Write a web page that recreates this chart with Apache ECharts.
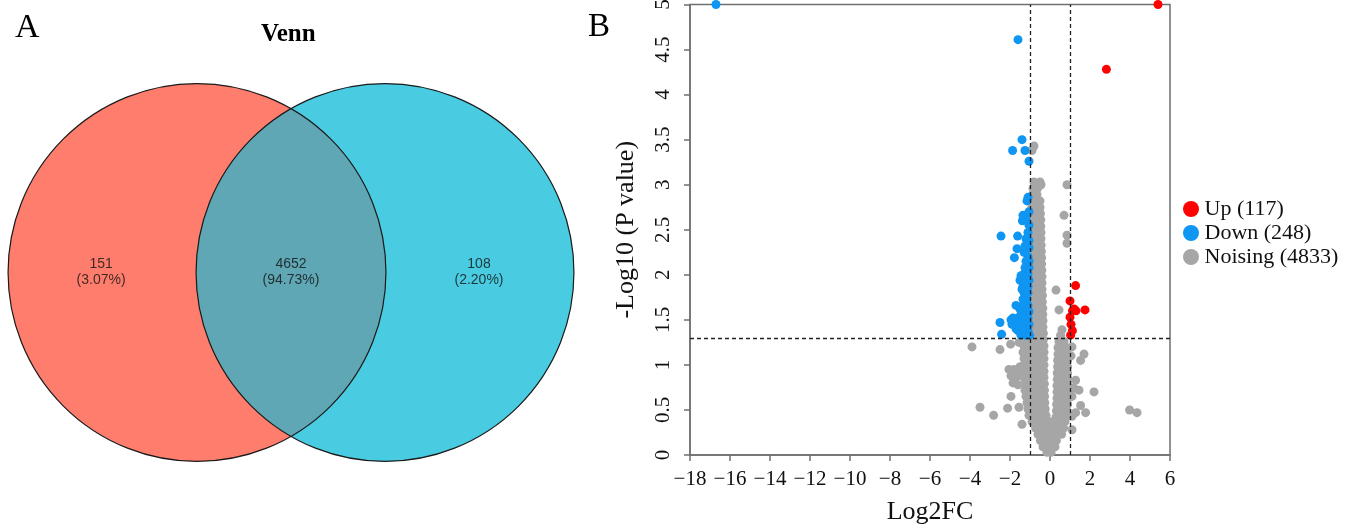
<!DOCTYPE html>
<html><head><meta charset="utf-8">
<script src="https://cdn.jsdelivr.net/npm/echarts@6/dist/echarts.min.js"></script>
<style>html,body{margin:0;padding:0;background:#fff}#c{width:1365px;height:524px}</style>
</head><body><div id="c"></div>
<script>
// ---------- Venn data ----------
const vennRegionCounts = [151, 4652, 108];
const vennRegionPercents = ['3.07%', '94.73%', '2.20%'];
const vennTitle = 'Venn';

// ---------- Volcano data ----------
const legendNames = ['Up', 'Down', 'Noising'];
const legendCounts = [117, 248, 4833];
const xTickLabels = [-18, -16, -14, -12, -10, -8, -6, -4, -2, 0, 2, 4, 6];
const yTickLabels = [0, 0.5, 1, 1.5, 2, 2.5, 3, 3.5, 4, 4.5, 5];
const fcThresholds = [-1, 1];
const pThreshold = 1.301;

// up-regulated points [log2FC, -log10 p]
const upPoints = [[5.4,5.0],[2.82,4.28],[1.28,1.88],[1.0,1.71],[1.12,1.6],[1.3,1.6],[1.75,1.61],
  [1.0,1.53],[1.12,1.38],[1.03,1.33],[1.05,1.45],[1.2,1.62]];

// down-regulated points
const downPoints = [[-16.7,5.0],[-1.6,4.61],[-1.4,3.5],[-1.87,3.38],[-1.25,3.38],[-1.05,3.26],
  [-1.15,2.82],[-1.1,2.86],[-1.35,2.66],[-1.38,2.6],[-1.2,2.62],[-1.05,2.55],[-1.05,2.7],
  [-2.45,2.43],[-1.62,2.43],[-1.1,2.47],[-1.05,2.38],[-1.2,2.4],
  [-1.65,2.29],[-1.78,2.19],[-1.3,2.25],[-1.1,2.2],[-1.05,2.3],[-1.25,2.32],
  [-1.2,2.15],[-1.05,2.15],[-1.25,2.08],[-1.05,2.08],[-1.3,2.01],[-1.1,2.01],
  [-1.5,1.94],[-1.25,1.94],[-1.05,1.94],[-1.35,1.87],[-1.1,1.87],[-1.3,1.8],[-1.1,1.8],
  [-1.35,1.73],[-1.15,1.73],[-1.7,1.66],[-1.35,1.66],[-1.1,1.66],[-1.4,1.59],[-1.2,1.59],[-1.05,1.59],
  [-1.85,1.52],[-1.6,1.52],[-1.35,1.52],[-1.1,1.52],[-1.9,1.45],[-1.55,1.45],[-1.3,1.45],[-1.05,1.45],
  [-1.6,1.38],[-1.35,1.38],[-1.1,1.38],[-1.45,1.33],[-1.2,1.33],[-1.02,1.33],
  [-1.45,1.99],[-1.4,1.84],[-1.25,1.7],[-1.5,1.62],[-1.7,1.4],[-1.45,1.56],
  [-2.5,1.47],[-2.42,1.34],[-1.95,1.5]];

// non-significant points, grouped by row: [-log10 p, [log2FC ...]]
const noiseRows = [
  [3.43,[-0.8]],[3.38,[-0.9]],
  [3.03,[-0.8,-0.5]],[2.96,[-0.85,-0.62]],[2.89,[-0.88,-0.65]],
  [2.82,[-0.9,-0.68,-0.5]],[2.75,[-0.9,-0.68,-0.5]],[2.68,[-0.9,-0.68,-0.48]],
  [2.61,[-0.9,-0.68,-0.46]],[2.54,[-0.9,-0.68,-0.46]],[2.47,[-0.9,-0.68,-0.45]],
  [2.40,[-0.9,-0.68,-0.45]],[2.33,[-0.9,-0.68,-0.44]],[2.26,[-0.9,-0.67,-0.43]],
  [2.19,[-0.9,-0.67,-0.42]],[2.12,[-0.9,-0.67,-0.42]],[2.05,[-0.9,-0.66,-0.41]],
  [1.98,[-0.9,-0.66,-0.4]],[1.91,[-0.9,-0.65,-0.4]],[1.84,[-0.9,-0.65,-0.4]],
  [1.77,[-0.9,-0.65,-0.38]],[1.70,[-0.9,-0.65,-0.38]],[1.63,[-0.9,-0.65,-0.36]],
  [1.56,[-0.9,-0.64,-0.36]],[1.49,[-0.9,-0.64,-0.35]],[1.42,[-0.9,-0.63,-0.35]],
  [1.35,[-0.9,-0.63,-0.33]],
  [1.28,[-1.15,-0.9,-0.62,-0.33]],[1.21,[-1.3,-1.05,-0.8,-0.55,-0.3]],
  [1.14,[-1.35,-1.1,-0.85,-0.58,-0.3]],[1.07,[-1.3,-1.05,-0.8,-0.55,-0.3]],
  [1.00,[-1.3,-1.05,-0.8,-0.55,-0.3]],[0.93,[-1.3,-1.05,-0.8,-0.55,-0.3]],
  [0.86,[-1.3,-1.05,-0.8,-0.55,-0.3]],[0.79,[-1.25,-1.0,-0.75,-0.5,-0.28]],
  [0.72,[-1.25,-1.0,-0.75,-0.5,-0.28]],[0.65,[-1.2,-0.95,-0.7,-0.48,-0.27]],
  [0.58,[-1.15,-0.92,-0.68,-0.46,-0.26]],[0.51,[-1.1,-0.88,-0.65,-0.44,-0.24]],
  [0.44,[-1.05,-0.83,-0.6,-0.4,-0.2]],[0.37,[-0.9,-0.68,-0.46,-0.26,-0.06,0.12]],
  [0.30,[-0.72,-0.5,-0.3,-0.1,0.1,0.3]],[0.23,[-0.6,-0.4,-0.2,0.0,0.2,0.4]],
  [0.16,[-0.48,-0.28,-0.08,0.12,0.32]],[0.09,[-0.35,-0.15,0.05,0.25]],[0.03,[-0.15,0.05]],
  // right arm
  [1.83,[0.3]],[1.61,[0.45]],[1.39,[0.6]],[1.33,[0.53]],
  [1.26,[0.45,0.7]],[1.19,[0.4,0.65,0.85]],[1.12,[0.4,0.65,0.88]],[1.05,[0.38,0.62,0.88]],
  [0.98,[0.38,0.62,0.88]],[0.91,[0.36,0.6,0.88]],[0.84,[0.36,0.6,0.9]],[0.77,[0.35,0.6,0.9]],
  [0.70,[0.35,0.6,0.9]],[0.63,[0.35,0.6,0.9]],[0.56,[0.33,0.58,0.88]],[0.49,[0.32,0.56,0.85]],
  [0.42,[0.3,0.55,0.8]],[0.37,[0.32,0.52,0.75]],[0.30,[0.5,0.68]],[0.23,[0.58]]
];
const noiseScattered = [
  [-2.05,0.95],[-1.8,0.95],[-1.95,0.88],[-1.7,0.86],[-1.55,0.9],[-1.85,0.8],[-1.6,0.78],[-1.5,0.98],
  [-3.9,1.2],[-2.5,1.17],[-1.97,1.23],[-1.55,1.25],[-3.5,0.53],[-2.82,0.44],[-2.12,0.52],
  [-1.55,0.53],[-1.4,0.34],[-1.95,0.65],
  [1.7,1.12],[1.53,1.05],[1.2,0.74],[1.28,0.83],[2.2,0.7],[1.53,0.55],[1.78,0.47],[1.28,0.47],
  [1.1,0.65],[1.45,0.72],[1.1,0.43],[1.1,0.28],[1.1,1.2],[1.05,1.1],
  [3.98,0.5],[4.35,0.47],
  [-0.45,3.0],[0.85,3.0],[0.7,2.66],[0.85,2.44],[0.85,2.35]
];
const noisePoints = noiseRows.flatMap(([y, xs]) => xs.map(x => [x, y])).concat(noiseScattered);

const serif = 'Liberation Serif';
const axisGrey = '#6f6f6f';
const names = legendNames.map((n, i) => `${n} (${legendCounts[i]})`);

const chart = echarts.init(document.getElementById('c'), null, {renderer: 'canvas'});

const vennLabelX = [-0.51, 0.5, 1.5];

const option = {
  animation: false,
  backgroundColor: '#fff',
  title: [
    {text: 'A', left: 10, top: 6, textStyle: {fontFamily: serif, fontSize: 34, fontWeight: 'normal', color: '#000'}},
    {text: vennTitle, left: 256, top: 17, textStyle: {fontFamily: serif, fontSize: 25, fontWeight: 'bold', color: '#000'}},
    {text: 'B', left: 583, top: 6, textStyle: {fontFamily: serif, fontSize: 33, fontWeight: 'normal', color: '#000'}}
  ],
  legend: {
    data: names, orient: 'vertical', left: 1178, top: 193, icon: 'circle',
    itemWidth: 17, itemHeight: 16, itemGap: 2,
    textStyle: {fontFamily: serif, fontSize: 22, color: '#111'}
  },
  grid: [
    {left: 9, top: 84.5, width: 564, height: 376, show: false, outerBoundsMode: 'none', containLabel: false},
    {left: 690, top: 4.5, width: 480, height: 450.5, show: true, borderColor: axisGrey, borderWidth: 1.5,
      backgroundColor: 'transparent', outerBoundsMode: 'none', containLabel: false}
  ],
  xAxis: [
    {gridIndex: 0, type: 'value', min: -1, max: 2, show: false},
    {gridIndex: 1, type: 'value', min: xTickLabels[0], max: xTickLabels[xTickLabels.length - 1], interval: 2,
      axisLine: {show: true, onZero: false, lineStyle: {color: axisGrey, width: 1.5}},
      axisTick: {show: true, length: 6, lineStyle: {color: axisGrey, width: 1.5}},
      splitLine: {show: false},
      axisLabel: {fontFamily: serif, fontSize: 21, color: '#111', margin: 14,
        formatter: v => String(v).replace('-', '\u2212')},
      name: 'Log2FC', nameLocation: 'middle', nameGap: 44,
      nameTextStyle: {fontFamily: serif, fontSize: 26, color: '#111'}}
  ],
  yAxis: [
    {gridIndex: 0, type: 'value', min: -1, max: 1, show: false},
    {gridIndex: 1, type: 'value', min: yTickLabels[0], max: yTickLabels[yTickLabels.length - 1], interval: 0.5,
      axisLine: {show: true, onZero: false, lineStyle: {color: axisGrey, width: 1.5}},
      axisTick: {show: true, length: 6, lineStyle: {color: axisGrey, width: 1.5}},
      splitLine: {show: false},
      axisLabel: {fontFamily: serif, fontSize: 21, color: '#111', margin: 16, rotate: 90},
      name: '-Log10 (P value)', nameLocation: 'middle', nameGap: 51,
      nameTextStyle: {fontFamily: serif, fontSize: 26, color: '#111'}}
  ],
  series: [
    {
      type: 'custom', xAxisIndex: 0, yAxisIndex: 0, silent: true,
      data: [[0.5, 0]],
      renderItem: function (params, api) {
        const cL = api.coord([0, 0]);
        const cR = api.coord([1, 0]);
        const d = cR[0] - cL[0];
        const r = d * 1.005;
        const cy = cL[1];
        const mx = (cL[0] + cR[0]) / 2;
        const h = Math.sqrt(r * r - (d / 2) * (d / 2));
        const lens = `M ${mx} ${cy - h} A ${r} ${r} 0 0 1 ${mx} ${cy + h} A ${r} ${r} 0 0 1 ${mx} ${cy - h} Z`;
        return {
          type: 'group',
          children: [
            {type: 'circle', shape: {cx: cL[0], cy: cy, r: r}, style: {fill: '#FF7D6D'}},
            {type: 'circle', shape: {cx: cR[0], cy: cy, r: r}, style: {fill: '#49CCE1'}},
            {type: 'path', shape: {pathData: lens}, style: {fill: '#5FA7B4'}},
            {type: 'circle', shape: {cx: cL[0], cy: cy, r: r}, style: {fill: 'none', stroke: '#1a1a1a', lineWidth: 1.2}},
            {type: 'circle', shape: {cx: cR[0], cy: cy, r: r}, style: {fill: 'none', stroke: '#1a1a1a', lineWidth: 1.2}}
          ]
        };
      }
    },
    {
      type: 'scatter', xAxisIndex: 0, yAxisIndex: 0, silent: true, symbolSize: 1,
      itemStyle: {color: 'rgba(0,0,0,0)'},
      data: vennRegionCounts.map((c, i) => ({value: [vennLabelX[i], 0], name: `${c}\n(${vennRegionPercents[i]})`})),
      label: {show: true, position: 'inside', formatter: p => p.name,
        fontFamily: 'Liberation Sans', fontSize: 14, lineHeight: 16, color: '#111'},
      z: 5
    },
    {
      name: names[2], type: 'scatter', xAxisIndex: 1, yAxisIndex: 1, symbolSize: 9,
      itemStyle: {color: '#A6A6A6', opacity: 1}, data: noisePoints, clip: false, z: 2
    },
    {
      name: names[1], type: 'scatter', xAxisIndex: 1, yAxisIndex: 1, symbolSize: 9,
      itemStyle: {color: '#0F95F2', opacity: 1}, data: downPoints, clip: false, z: 3
    },
    {
      name: names[0], type: 'scatter', xAxisIndex: 1, yAxisIndex: 1, symbolSize: 9,
      itemStyle: {color: '#FF0000', opacity: 1}, data: upPoints, clip: false, z: 4,
      markLine: {
        silent: true, symbol: ['none', 'none'], label: {show: false},
        lineStyle: {type: [4, 3], color: '#222', width: 1.3},
        data: [{xAxis: fcThresholds[0]}, {xAxis: fcThresholds[1]}, {yAxis: pThreshold}]
      }
    }
  ]
};
chart.setOption(option);
</script></body></html>
